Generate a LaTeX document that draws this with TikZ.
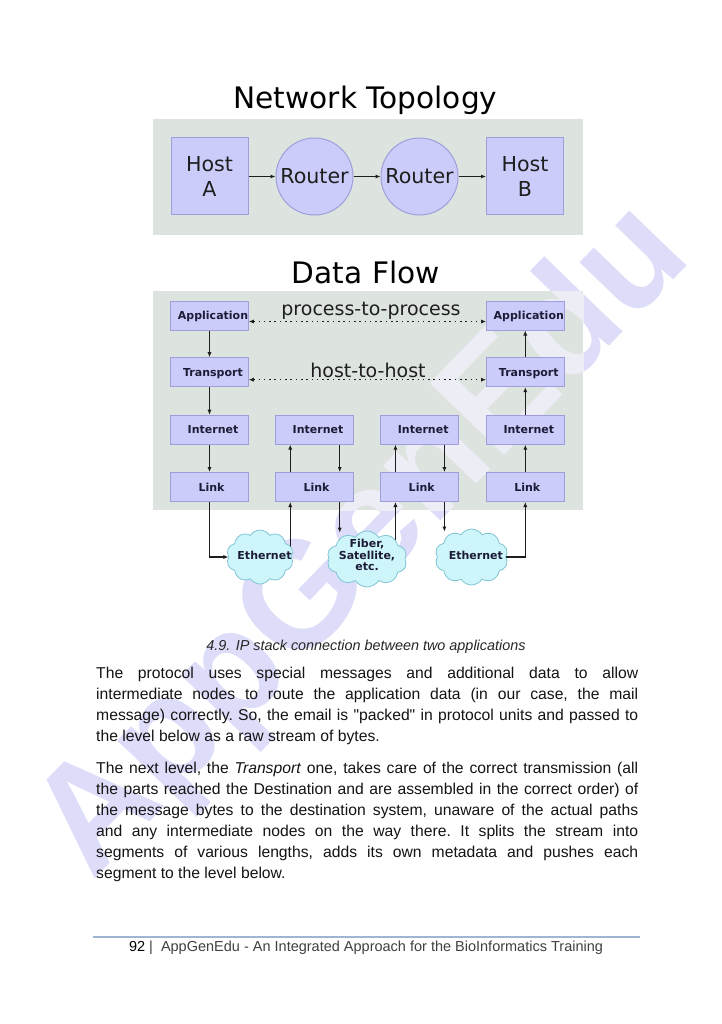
\documentclass[tikz,border=0pt]{standalone}
\usepackage{fontspec}
\setmainfont{Liberation Sans}[Ligatures=TeXOff]
\newfontfamily\dvs{DejaVu Sans}
\usetikzlibrary{arrows.meta,shapes.symbols,calc}

\definecolor{bggray}{RGB}{221,227,223}
\definecolor{lav}{RGB}{204,204,250}
\definecolor{lavborder}{RGB}{158,158,218}
\definecolor{cloudfill}{RGB}{206,246,250}
\definecolor{cloudborder}{RGB}{128,196,214}
\definecolor{wmark}{RGB}{210,210,249}
\definecolor{wmarkpanel}{RGB}{240,240,250}
\definecolor{ink}{RGB}{30,30,30}
\definecolor{labelink}{RGB}{28,28,56}
\definecolor{footline}{RGB}{160,180,212}
\definecolor{bodyink}{RGB}{20,20,20}

\begin{document}
\begin{tikzpicture}[x=1pt,y=-1pt,
  panel/.style={fill=bggray, draw=none},
  topobox/.style={draw=lavborder, fill=lav, line width=1pt, minimum width=77, minimum height=77,
    inner sep=0, align=center, font=\dvs\fontsize{20.6}{24.4}\selectfont, text=ink},
  router/.style={circle, draw=lavborder, fill=lav, line width=1pt, minimum size=77, inner sep=0,
    font=\dvs\fontsize{20.6}{24}\selectfont, text=ink},
  stackbox/.style={draw=lavborder, fill=lav, line width=1pt, minimum width=77.5, minimum height=29,
    inner sep=0, text height=8pt, text depth=0pt, font=\dvs\bfseries\fontsize{11}{12}\selectfont, text=labelink},
  cloudshape/.style={cloud, cloud puffs=10, cloud puff arc=115, cloud ignores aspect,
    draw=cloudborder, fill=cloudfill, line width=0.8pt, inner sep=0},
  cloudtxt/.style={font=\dvs\bfseries\fontsize{11}{11.7}\selectfont, text=labelink, align=center, inner sep=0},
  flow/.style={line width=1.2pt, draw=ink, -{Latex[length=5pt,width=4.2pt]}},
  peer/.style={line width=1.5pt, draw=ink, dash pattern=on 1.6pt off 3.7pt,
    {Latex[length=5pt,width=4.2pt]}-{Latex[length=5pt,width=4.2pt]}},
  peertxt/.style={font=\dvs\fontsize{19}{22}\selectfont, text=ink, inner sep=0, anchor=base},
  title/.style={font=\dvs\fontsize{29.6}{34}\selectfont, text=black, inner sep=0, anchor=base},
  body/.style={anchor=base west, text width=542pt, inner sep=0, align=justify, text=bodyink,
    font=\fontsize{15.7}{21.1}\selectfont},
  watermark/.style={anchor=base west, rotate=46, inner sep=0, text opacity=0.75,
    font=\bfseries\fontsize{150}{150}\selectfont}
]
\useasboundingbox (0,0) rectangle (721,1024);
\fill[white] (0,0) rectangle (721,1024);

% watermark on the page
\node[watermark, text=wmark] (wm) at (92,882) {AppGenEdu};

% titles
\node[title] (ttopo) at (365.5,109) {Network Topology};
\node[title] (tflow) at (365.8,283) {Data Flow};

% panels
\fill[panel] (153,119) rectangle (583,235);
\fill[panel] (153,291) rectangle (583,510);

% watermark seen through the panels
\begin{scope}
  \clip (153,119) rectangle (583,235) (153,291) rectangle (583,510);
  \node[watermark, text=wmarkpanel, text opacity=0.85] (wmp) at (92,882) {AppGenEdu};
\end{scope}

% topology
\node[topobox] (hostA) at (209.5,176.5) {Host\\A};
\node[router] (r1) at (314.5,176.5) {Router};
\node[router] (r2) at (419.5,176.5) {Router};
\node[topobox] (hostB) at (525,176.5) {Host\\B};
\draw[flow] (hostA) -- (r1);
\draw[flow] (r1) -- (r2);
\draw[flow] (r2) -- (hostB);

% data flow stacks
\node[stackbox] (a1) at (209.5,315.5) {\kern7pt Application};
\node[stackbox] (t1) at (209.5,372.2) {\kern7pt Transport};
\node[stackbox] (i1) at (209.5,429.7) {\kern7pt Internet};
\node[stackbox] (l1) at (209.5,487) {\kern4pt Link};

\node[stackbox] (i2) at (314.5,429.7) {\kern7pt Internet};
\node[stackbox] (l2) at (314.5,487) {\kern4pt Link};

\node[stackbox] (i3) at (419.7,429.7) {\kern7pt Internet};
\node[stackbox] (l3) at (419.7,487) {\kern4pt Link};

\node[stackbox] (a4) at (525.3,315.5) {\kern7pt Application};
\node[stackbox] (t4) at (525.3,372.2) {\kern7pt Transport};
\node[stackbox] (i4) at (525.3,429.7) {\kern7pt Internet};
\node[stackbox] (l4) at (525.3,487) {\kern4pt Link};

% peer links
\draw[peer] ($(a1.east)+(0,6)$) -- ($(a4.west)+(0,6)$);
\draw[peer] ($(t1.east)+(0,7.5)$) -- ($(t4.west)+(0,7.5)$);
\node[peertxt] (p2p) at (371,315) {process-to-process};
\node[peertxt] (h2h) at (368,377.5) {host-to-host};

% vertical flow
\draw[flow] (a1) -- (t1);
\draw[flow] (t1) -- (i1);
\draw[flow] (i1) -- (l1);
\draw[flow] (l4) -- (i4);
\draw[flow] (i4) -- (t4);
\draw[flow] (t4) -- (a4);

\coordinate (l2up) at ($(l2.south west)+(15,0)$);
\coordinate (l2dn) at ($(l2.south east)+(-14,0)$);
\coordinate (l3up) at ($(l3.south west)+(15,0)$);
\coordinate (l3dn) at ($(l3.south east)+(-14.5,0)$);
\coordinate (i2up) at ($(i2.south west)+(15,0)$);
\coordinate (i2dn) at ($(i2.south east)+(-14,0)$);
\coordinate (i3up) at ($(i3.south west)+(15,0)$);
\coordinate (i3dn) at ($(i3.south east)+(-14.5,0)$);

\draw[flow] (l2.north -| l2up) -- (i2up);
\draw[flow] (i2dn) -- (l2.north -| l2dn);
\draw[flow] (l3.north -| l3up) -- (i3up);
\draw[flow] (i3dn) -- (l3.north -| l3dn);

% clouds
\coordinate (c1pos) at (260,557);
\coordinate (c2pos) at (367,559);
\coordinate (c3pos) at (471.5,557);
\draw[flow] (l2up |- c1pos) -- (l2up);
\draw[flow] (l3up |- c2pos) -- (l3up);

\node[cloudshape, minimum width=67, minimum height=54] (c1) at (c1pos) {};
\node[cloudshape, minimum width=80, minimum height=56] (c2) at (c2pos) {};
\node[cloudshape, minimum width=73, minimum height=56] (c3) at (c3pos) {};
\node[cloudtxt] (c1t) at (264.5,555.5) {Ethernet};
\node[cloudtxt] (c2t) at (367,555) {Fiber,\\Satellite,\\etc.};
\node[cloudtxt] (c3t) at (475.8,555.5) {Ethernet};

\coordinate (c2top) at ($(l2dn |- c2.north)+(0,2)$);
\coordinate (c3top) at ($(l3dn |- c3.north)+(0,3)$);
\draw[flow] (l1.south) |- (c1.west);
\draw[flow] (c3.east) -| (l4.south);
\draw[flow] (l2dn) -- (c2top);
\draw[flow] (l3dn) -- (c3top);

% caption and body text
\node[anchor=base, inner sep=0, text=black!85, font=\itshape\fontsize{14.4}{17}\selectfont] (cap) at (366,650.5)
  {4.9. IP stack connection between two applications};

\node[body] (par1) at (96,678.5) {\frenchspacing\hyphenpenalty=10000 The protocol uses special messages and additional data to allow\linebreak
intermediate nodes to route the application data (in our case, the mail\linebreak
message) correctly. So, the email is "packed" in protocol units and passed to\linebreak
the level below as a raw stream of bytes.};

\node[body] (par2) at (96,773) {\frenchspacing\hyphenpenalty=10000 The next level, the \textit{Transport} one, takes care of the correct transmission (all\linebreak
the parts reached the Destination and are assembled in the correct order) of\linebreak
the message bytes to the destination system, unaware of the actual paths\linebreak
and any intermediate nodes on the way there. It splits the stream into\linebreak
segments of various lengths, adds its own metadata and pushes each\linebreak
segment to the level below.};

% footer
\coordinate (fl) at (93,937);
\coordinate (fr) at (640,937);
\draw[footline, line width=1.2pt] (fl) -- (fr);
\node[anchor=base, inner sep=0, text=black!75, font=\fontsize{14.5}{17}\selectfont] (foot) at (366,951)
  {\textcolor{black}{92} |\ \ AppGenEdu - An Integrated Approach for the BioInformatics Training};
\end{tikzpicture}
\end{document}
